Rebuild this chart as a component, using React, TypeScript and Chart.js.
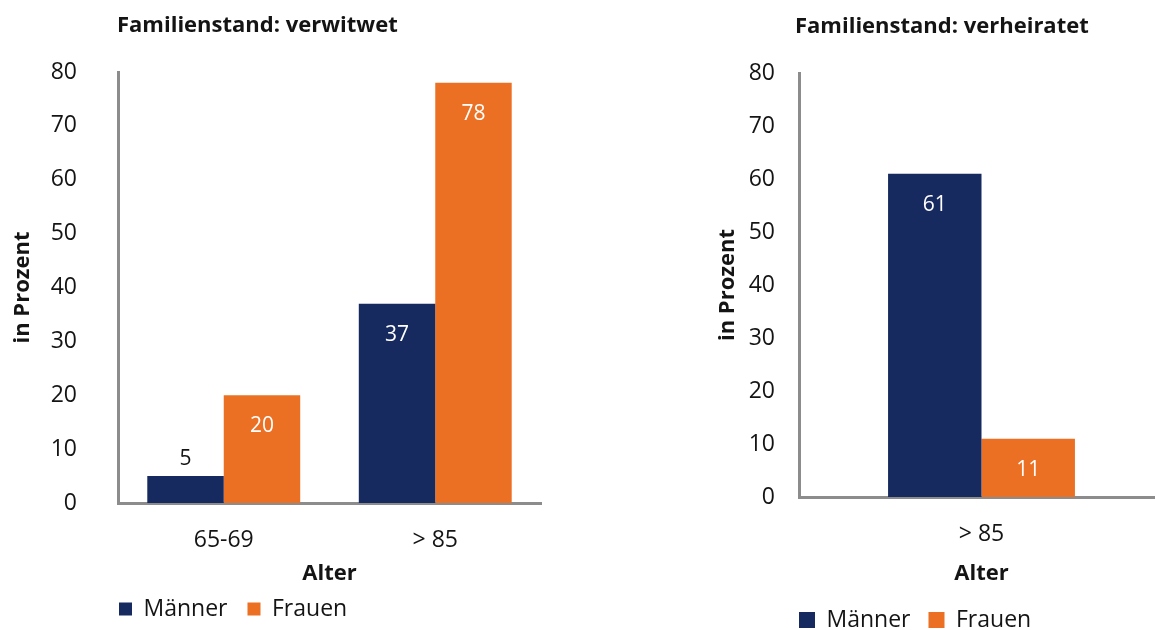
import React, { useEffect, useRef } from 'react';
import { Chart, registerables } from 'chart.js';

Chart.register(...registerables);

// ---- data ----
const seriesNames = ['Männer', 'Frauen'];
const leftTitle = 'Familienstand: verwitwet';
const leftCategories = ['65-69', '> 85'];
const leftMaenner = [5, 37];
const leftFrauen = [20, 78];
const rightTitle = 'Familienstand: verheiratet';
const rightCategories = ['> 85'];
const rightMaenner = [61];
const rightFrauen = [11];
const yMin = 0;
const yMax = 80;
const yStep = 10;
const yAxisTitle = 'in Prozent';
const xAxisTitle = 'Alter';

// ---- styles ----
const FONT = "'Open Sans', 'DejaVu Sans', sans-serif";
const NAVY = '#162a60';
const ORANGE = '#ec7023';
const AXIS = '#8c8c8c';
const TEXT = '#141414';
const FS = 22; // bold titles
const LH = FS * 1.2;
const FT = 23; // tick + legend text
const LHT = FT * 1.2;
const H = 630;
const LEGEND_H = 30;

type PanelCfg = {
  title: string;
  categories: string[];
  maenner: number[];
  frauen: number[];
  W: number;
  area: { left: number; right: number; top: number; bottom: number };
  titleLeft: number;
  titleCenterY: number;
  yTitleCenterX: number;
  yTickRight: number;
  xTickCenterY: number;
  xTitleCenterY: number;
  legendBox: number;
  legendPad: number;
  legendBoxLeft: number;
  legendTextCenterY: number;
  catPct: number;
};

const valueLabels = {
  id: 'valueLabels',
  afterDatasetsDraw(chart: any) {
    const ctx = chart.ctx;
    ctx.save();
    ctx.font = `400 21px ${FONT}`;
    ctx.textAlign = 'center';
    ctx.textBaseline = 'middle';
    chart.data.datasets.forEach((ds: any, di: number) => {
      const meta = chart.getDatasetMeta(di);
      meta.data.forEach((bar: any, i: number) => {
        const v = ds.data[i];
        const h = bar.base - bar.y;
        if (h > 45) {
          ctx.fillStyle = '#ffffff';
          ctx.fillText(String(v), bar.x, bar.y + 31);
        } else {
          ctx.fillStyle = TEXT;
          ctx.fillText(String(v), bar.x, bar.y - 17);
        }
      });
    });
    ctx.restore();
  },
};

function buildConfig(c: PanelCfg): any {
  const xHeight = H - LEGEND_H - c.area.bottom;
  const reposition = {
    id: 'reposition',
    afterLayout(chart: any) {
      const t = chart.titleBlock;
      if (t) {
        t.left = c.titleLeft;
        t.right = c.titleLeft + 600;
      }
      const l = chart.legend;
      if (l) {
        l.left = c.legendBoxLeft - c.legendPad;
        l.right = l.left + 500;
        l.top = c.legendTextCenterY - FT / 2 - c.legendPad;
        l.bottom = H;
        l.width = l.right - l.left;
        l.height = l.bottom - l.top;
      }
    },
  };
  return {
    type: 'bar',
    data: {
      labels: c.categories,
      datasets: [
        { label: seriesNames[0], data: c.maenner, backgroundColor: NAVY, borderWidth: 0 },
        { label: seriesNames[1], data: c.frauen, backgroundColor: ORANGE, borderWidth: 0 },
      ],
    },
    options: {
      responsive: false,
      animation: false,
      devicePixelRatio: 1,
      events: [],
      layout: { padding: { left: 0, right: c.W - c.area.right, top: 0, bottom: 0 } },
      datasets: { bar: { barPercentage: 1, categoryPercentage: c.catPct } },
      scales: {
        x: {
          grid: { display: false, drawTicks: false },
          border: { display: true, color: AXIS, width: 3 },
          ticks: {
            color: TEXT,
            font: { family: FONT, size: FT },
            padding: c.xTickCenterY - c.area.bottom - LHT / 2,
            maxRotation: 0,
          },
          title: {
            display: true,
            text: xAxisTitle,
            color: TEXT,
            font: { family: FONT, size: FS, weight: 'bold' },
            padding: { top: 0, bottom: H - LEGEND_H - c.xTitleCenterY - LH / 2 },
          },
          afterFit(s: any) {
            s.height = xHeight;
          },
        },
        y: {
          min: yMin,
          max: yMax,
          grid: { display: false, drawTicks: false },
          border: { display: true, color: AXIS, width: 3 },
          ticks: {
            stepSize: yStep,
            color: TEXT,
            font: { family: FONT, size: FT },
            padding: c.area.left - c.yTickRight,
          },
          title: {
            display: true,
            text: yAxisTitle,
            color: TEXT,
            font: { family: FONT, size: FS, weight: 'bold' },
            padding: { top: c.yTitleCenterX - LH / 2, bottom: 0 },
          },
          afterFit(s: any) {
            s.width = c.area.left;
          },
        },
      },
      plugins: {
        tooltip: { enabled: false },
        title: {
          display: true,
          text: c.title,
          align: 'start',
          color: TEXT,
          font: { family: FONT, size: FS, weight: 'bold' },
          padding: {
            top: c.titleCenterY - LH / 2,
            bottom: c.area.top - LH - (c.titleCenterY - LH / 2),
          },
        },
        legend: {
          display: true,
          position: 'bottom',
          align: 'start',
          maxHeight: LEGEND_H,
          labels: {
            boxWidth: c.legendBox,
            boxHeight: c.legendBox,
            padding: c.legendPad,
            color: TEXT,
            font: { family: FONT, size: FT },
          },
        },
      },
    },
    plugins: [valueLabels, reposition],
  };
}

const LEFT_X = 0;
const RIGHT_X = 660;

const leftCfg: PanelCfg = {
  title: leftTitle,
  categories: leftCategories,
  maenner: leftMaenner,
  frauen: leftFrauen,
  W: 580,
  area: { left: 118, right: 541, top: 72, bottom: 503 },
  titleLeft: 117,
  titleCenterY: 26,
  yTitleCenterX: 22.5,
  yTickRight: 77,
  xTickCenterY: 540,
  xTitleCenterY: 574,
  legendBox: 13,
  legendPad: 20,
  legendBoxLeft: 119,
  legendTextCenterY: 609,
  catPct: 0.723,
};

const rightCfg: PanelCfg = {
  title: rightTitle,
  categories: rightCategories,
  maenner: rightMaenner,
  frauen: rightFrauen,
  W: 520,
  area: { left: 799 - RIGHT_X, right: 1164 - RIGHT_X, top: 73, bottom: 497 },
  titleLeft: 795 - RIGHT_X,
  titleCenterY: 27,
  yTitleCenterX: 728 - RIGHT_X,
  yTickRight: 775 - RIGHT_X,
  xTickCenterY: 534,
  xTitleCenterY: 574,
  legendBox: 16,
  legendPad: 18,
  legendBoxLeft: 799 - RIGHT_X,
  legendTextCenterY: 620,
  catPct: 0.512,
};

function Panel({ cfg, x }: { cfg: PanelCfg; x: number }) {
  const ref = useRef<HTMLCanvasElement | null>(null);
  useEffect(() => {
    if (!ref.current) return;
    const chart = new Chart(ref.current, buildConfig(cfg));
    return () => chart.destroy();
  }, [cfg]);
  return (
    <canvas
      ref={ref}
      width={cfg.W}
      height={H}
      style={{ position: 'absolute', left: x, top: 0, width: cfg.W, height: H, display: 'block' }}
    />
  );
}

export default function App() {
  return (
    <div
      style={{
        position: 'fixed',
        left: 0,
        top: 0,
        width: 1155,
        height: 630,
        overflow: 'hidden',
        background: '#ffffff',
      }}
    >
      <Panel cfg={leftCfg} x={LEFT_X} />
      <Panel cfg={rightCfg} x={RIGHT_X} />
    </div>
  );
}
